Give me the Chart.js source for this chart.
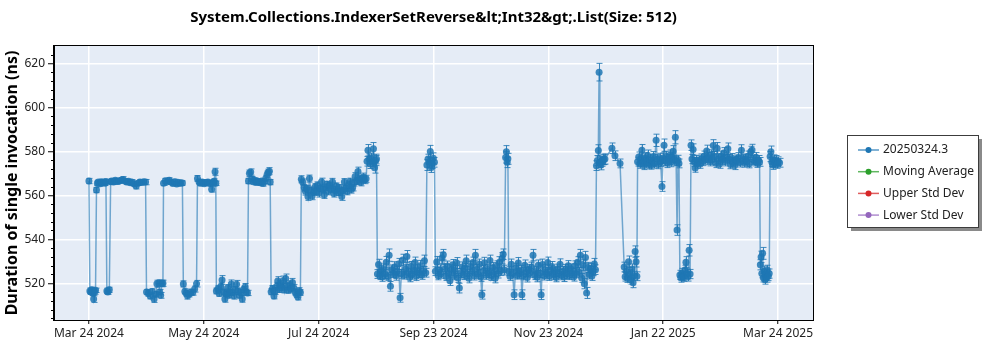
<!DOCTYPE html>
<html>
<head>
<meta charset="utf-8">
<script src="https://cdn.jsdelivr.net/npm/chart.js@4.4.1/dist/chart.umd.min.js"></script>
<style>
  html, body { margin: 0; padding: 0; background: #fff; }
</style>
</head>
<body>
<canvas id="chart" width="1000" height="350"></canvas>
<script>
const chartTitle = "System.Collections.IndexerSetReverse&lt;Int32&gt;.List(Size: 512)";
const yAxisTitle = "Duration of single invocation (ns)";
const seriesNames = ["20250324.3", "Moving Average", "Upper Std Dev", "Lower Std Dev"];
const seriesColors = ["#1f77b4", "#2ca02c", "#d62728", "#9467bd"];

// x is days since Mar 24 2024
const xTickDays = [0, 60.83, 121.67, 182.5, 243.33, 304.17, 365];
const xTickLabels = ["Mar 24 2024", "May 24 2024", "Jul 24 2024", "Sep 23 2024", "Nov 23 2024", "Jan 22 2025", "Mar 24 2025"];
const yTicks = [520, 540, 560, 580, 600, 620];

const days = [
  0,0.5,1,1.5,2,2.5,3,3.5,4,4.5,5,6,6.5,7,8,8.5,9,9.5,10,10.8,11.5,12,13,14,15,16,17,18,19,20,21,22,23,24,25,26,27,28,29,30,
  30.5,31.5,32.5,33.5,34.5,35.5,36,37,37.5,38,38.7,39.2,
  39.5,40.5,41.5,42.5,43.5,44.5,45.5,46.5,47.5,48.5,49.5,
  50,50.8,51.5,52.2,53,54,55,56,57,
  57.5,58.3,59,60,61,62,63,64,65,65.7,66.3,66.8,67.2,
  67.5,68.3,69,69.8,70.5,71.3,72,72.7,73.4,74,74.7,75.4,76,76.8,77.5,78.2,79,79.7,80.5,81.2,82,82.7,83.3,84,
  84.5,85,85.7,86.4,87,87.8,88.5,89.2,90,90.7,91.5,92.2,93,93.7,94.4,95,95.6,96,
  96.5,97.2,98,98.7,99.4,100,100.7,101.4,102,102.8,103.5,104.2,105,105.7,106.4,107,107.8,108.5,109.2,110,110.7,111.4,112,
  112.5,113.2,114,114.7,115.4,116,116.8,117.5,118.2,119,119.7,120.4,121,121.8,122.5,123.2,124,124.7,125.4,126,
  126.8,127.5,128.2,129,129.7,130.4,131,131.8,132.5,133.2,133.9,134.6,135.3,136,136.8,137.5,138.2,139,139.7,140.4,
  141,141.8,142.5,143.2,144,144.7,145.4,146,146.8,
  147.3,147.8,148.4,149,149.6,150.2,150.7,151.3,151.8,152.3,
  152.8,153.4,154,154.7,155.4,156,156.8,157.5,158.2,159,159.7,160.4,161,161.8,162.5,163.2,164,164.8,165.5,166.2,
  167,167.7,168.4,169,169.8,170.5,171.2,172,172.7,173.4,174,174.8,175.5,176.2,177,177.7,178.4,
  179,179.6,180.2,180.8,181.3,181.8,182.4,183,
  183.5,184.2,185,185.7,186.4,187,187.7,188.4,189,189.8,190.5,191.2,192,192.7,193.4,194,194.8,195.5,196.2,197,
  197.7,198.4,199,199.8,200.5,201.2,202,202.7,203.4,204,204.7,205.4,206,206.8,207.5,208.1,208.8,209.5,210.2,211,
  211.7,212.4,213,213.8,214.5,215.2,216,216.7,217.4,218,218.8,219.4,220,
  220.7,221.1,221.5,221.9,
  222.3,223,223.7,224.4,225.2,226,226.7,227.4,228,228.8,229.3,230,230.8,231.5,232.2,233,233.7,234.4,235.2,236,
  236.7,237.4,238,238.8,239.5,240.2,241,241.7,242.4,243,243.8,244.5,245.2,246,246.7,247.4,248,248.8,249.5,250.2,
  251,251.7,252.4,253,253.8,254.5,255.2,256,256.7,257.4,258,258.8,259.5,260.3,261,261.7,262.4,263,263.6,264.3,
  265,265.7,266.4,267,267.7,268.3,
  268.8,269.3,269.8,270.2,270.6,271.1,271.6,272.1,272.7,273.3,
  277,278.6,281.3,
  283.5,284,284.6,285.2,285.8,286.4,287,287.6,288.2,288.8,289.3,289.8,290.2,
  290.6,291.2,291.8,292.4,292.9,293.5,294.1,294.7,295.3,295.9,296.5,297.1,297.7,298.3,298.9,299.5,300.4,301,301.6,302.2,
  302.8,303.5,304,304.6,305.2,305.8,306.4,307,307.6,308.2,308.8,309.4,310,310.6,311,311.5,312,312.5,
  313,313.5,314,314.5,315,315.6,316.2,316.8,317.3,317.9,318.4,
  318.9,319.4,320,320.6,321.1,321.7,322.3,323,323.7,324.4,325,325.8,326.5,327.2,328,328.7,329.4,330.1,330.7,331.3,
  332,332.7,333.4,334,334.8,335.5,336.2,337,337.7,338.4,339,339.8,340.5,341.2,342,342.7,343.4,344,344.8,345.6,
  346.3,347,347.7,348.4,349,349.8,350.5,351.2,351.9,352.6,353.3,354,354.7,355.2,
  355.6,356,356.4,356.8,357.2,357.6,358,358.4,358.9,359.3,359.8,360.3,
  360.8,361.2,361.7,362.2,362.8,363.3,363.9,364.5,365.1,365.8
];

const durations = [
  566.5,516.5,516,517,515.5,512.8,516.2,516.8,562.4,565.5,566,565.3,566.2,565.8,566,565.5,566.3,516.5,516,517,
  566.2,566.5,566,566.8,566.3,566.5,566.9,567.2,566.5,566,566.4,565.7,565.9,565.2,564.2,565.5,566,565.8,566.2,566,
  516,515.5,514.2,516.3,512.8,515,519.8,520.1,516,514.5,519.9,520,
  565.5,566.6,566.2,566.8,566,565.4,566.2,565.2,565.8,565.5,565.6,
  519.7,516.3,515.5,514.3,515,516,515.8,517.4,519.8,
  567.7,566.2,565.5,566.1,565.3,565.8,566,565.4,562.8,565.8,566.4,570.7,565.5,
  516.5,517.4,515.3,518.5,521.5,516,512.9,515.2,517.8,514.6,516,519.7,515.8,514.3,517.2,519.6,516.3,514.5,515.8,512.9,517.2,518.3,516,515.6,
  566.5,570,570.6,567.4,566.2,566.8,565.8,566.4,566,565.7,566.5,565.4,566.3,567.8,569.5,570.5,571,566,
  516.2,517.5,514.2,516.5,518.6,521,517.3,519.6,518.2,521.2,517,522.2,518.5,516.8,519.4,517.5,520.4,518,516,514.8,513.8,516.5,515.8,
  567.3,566,563.5,561.8,563,559.5,567.6,562.3,559.7,561.4,563.8,562,564.6,561,563.2,566.2,562.5,560.3,563.7,565,
  561.8,564.5,562.8,566,560.8,562.5,564.2,561.5,563.4,561.7,559.5,562.3,566,563.2,561.7,564.8,566.3,562.6,563.4,565.7,
  568.5,566.5,570.8,567.2,565.8,567.6,568.3,566.8,567.5,
  575.5,580.5,576.5,574.2,576.8,575.2,581.2,572.5,575.8,576.5,
  524.2,528.5,523.5,525.8,522.8,526.5,524.2,529.6,523,532.8,518.6,526.2,524.5,527.4,523.4,525.5,528.8,513.4,524.3,530.6,
  523.7,526.4,532.2,524.8,522.6,527.6,524,525.8,529.4,523.2,526.2,524.6,528,523.6,525.4,530.2,524.8,
  573.8,576.5,575,579.9,572.6,574.5,576.8,575,
  525.5,529.7,523.4,526.2,524.3,531.5,533,526.5,523.2,527.8,524.5,521.2,526.3,528.4,523.5,525.8,529.2,522.4,517.8,524.7,
  527.4,523.6,526.8,530.2,524.2,522.3,527.6,525.4,529.4,523.4,532.8,526.3,524.1,528.6,522.8,514.8,525.8,529.3,523.7,526.4,
  524.6,530.4,523.2,527.2,525,522.3,527.8,524.4,529.6,525.7,531.4,533.2,526,
  577.2,579.8,575,576.6,
  525.5,523.2,528.6,524.4,514.8,526.8,523.8,529.2,524.2,526,514.8,523.5,528.2,525.2,522.6,526.4,524.8,527.3,532.8,523.6,
  525.4,522.7,528.2,524.6,514.8,528.5,523.4,526.2,524.3,529.5,523.2,525.8,527.6,523.8,525.2,522.6,526.5,524.4,528.7,523.5,
  525.5,522.8,526.4,524.2,528,523.6,526.6,524.7,522.9,527.8,524.5,529.6,525,532.7,522.4,528.3,519.8,531.7,515.6,527.2,
  524,526.8,523.3,525.6,528.8,526.2,
  573.5,575.8,580.4,616,575,573.8,575.5,576.3,576.2,576.5,
  581.4,578,574.5,
  527.4,523,525.5,522.3,529.8,524,521.6,526.5,520.2,523.5,534.4,529.8,523.2,
  575.3,577.4,574.2,576.6,580.5,575.2,573.6,577,575.5,578.2,574,576.2,573.8,575.8,577.6,574.4,585,576.4,574,576.8,
  575.2,564,577,582.8,575.6,577.6,574.6,576.4,578.2,575,577.4,580,576,586.4,575.6,544.2,576,574.5,
  523.8,522.5,524.6,523.2,522.8,526,529.6,524.4,523,535,524.2,
  582.8,576.5,580.8,575.2,572.4,576,574.4,575.8,574.2,576.6,575.5,577.8,576.2,580.2,577.2,575.4,578.4,576.2,582.6,577.6,
  574.6,581.4,576.6,574.2,577.8,576.2,579.2,575.4,577.2,581.2,576.4,574,576.8,575.3,573.6,576.2,575.7,577.2,574.9,580.5,
  576.4,574.8,576.6,575.2,577.8,574.4,579.8,580.6,576.2,575.4,577.3,574.6,576,575.2,
  528.4,532,524.5,533.6,522.5,525.6,521.6,524.2,522.4,526,523.2,524.4,
  577.6,579.8,575.2,573.8,576.2,574.6,576,574.2,575.4,574.8
];

const errors = [
  1.2,1.4,1,1.2,1,1.5,1.2,1,1.2,1,1,1.1,1,1,1.2,1,1,1.3,1,1.2,1,1,1.1,1,1.2,1,1,1.3,1,1.1,1,1,1.2,1,1.3,1,1.1,1,1,1.2,
  1.2,1.4,1.3,1.2,1.5,1.2,1.6,1.4,1.2,1.3,1.5,1.4,
  1,1.1,1,1.2,1,1,1.1,1,1.2,1,1,
  1.4,1.2,1.3,1.5,1.2,1.3,1.2,1.4,1.5,
  1.3,1,1.1,1,1,1.2,1,1.1,1.3,1,1.1,1.6,1,
  1.3,1.5,1.2,1.6,2,1.3,1.5,1.2,1.6,1.3,1.4,1.8,1.2,1.5,1.3,1.7,1.4,1.2,1.3,1.5,1.4,1.6,1.3,1.2,
  1.2,1.5,1.4,1.2,1,1.1,1,1.2,1,1.1,1,1.2,1,1.3,1.5,1.4,1.6,1.2,
  1.4,1.5,1.3,1.6,1.8,2,1.5,1.7,1.6,2.1,1.4,2,1.5,1.3,1.7,1.5,1.8,1.5,1.4,1.3,1.4,1.5,1.3,
  1.6,1.4,1.5,1.7,1.5,1.8,1.6,1.5,1.7,1.4,1.5,1.6,1.5,1.8,1.4,1.6,1.5,1.7,1.5,1.4,
  1.6,1.5,1.4,1.7,1.6,1.5,1.4,1.6,1.5,1.7,1.8,1.5,1.6,1.4,1.5,1.7,1.5,1.6,1.4,1.5,
  1.8,1.6,2,1.7,1.5,1.6,1.8,1.5,1.6,
  2.2,2.6,2.3,2,2.4,2.2,2.8,2.4,2.3,2.2,
  2,2.4,1.8,2.2,1.9,2.3,2,2.6,1.8,2.8,2.2,2.1,1.9,2.4,2,2.2,2.5,2,2,2.6,
  1.8,2.2,2.7,2,1.9,2.3,2.1,2,2.5,1.9,2.2,2,2.4,1.8,2.1,2.6,2,
  2.5,2.2,2.4,2.8,2.2,2.3,2.5,2.2,
  2,2.5,1.8,2.2,2,2.6,2.4,2.1,1.9,2.3,2,2.2,2.1,2.4,1.9,2.2,2.5,2,2.2,2,
  2.3,1.9,2.2,2.6,2,2.1,2.4,2,2.5,1.9,2.6,2.2,2,2.4,1.9,2,2.2,2.5,1.9,2.1,
  2,2.4,1.9,2.2,2,2.1,2.4,2,2.5,2.1,2.6,2.4,2.2,
  2.6,2.8,2.4,2.5,
  2,1.9,2.4,2,2.2,2.3,1.9,2.5,2,2.2,2.2,1.9,2.4,2.1,2,2.2,2,2.3,2.6,1.9,
  2.1,2,2.4,2,2.2,2.5,1.9,2.2,2,2.4,1.9,2.1,2.3,2,2.1,1.9,2.2,2,2.4,1.9,
  2.1,2,2.2,2,2.3,1.9,2.2,2.1,1.9,2.4,2,2.5,2.1,2.7,2,2.4,2.3,2.8,2.5,2.3,
  2,2.2,2,2.1,2.5,2.2,
  2.2,2.3,2.6,4,2.4,2.2,2.3,2.4,2.2,2.3,
  2.4,2.2,2,
  2.2,2,2.3,1.9,2.6,2.1,2,2.3,2.2,2,2.6,2.4,2,
  2,2.3,1.9,2.2,2.6,2,1.9,2.3,2,2.4,1.9,2.2,1.9,2.1,2.3,2,2.8,2.2,1.9,2.3,
  2,2.2,2.3,2.8,2.1,2.4,2,2.2,2.4,2,2.3,2.6,2.2,3,2.1,2.4,2.2,2,
  2.1,2,2.2,2,1.9,2.2,2.5,2.1,2,2.6,2.1,
  2.4,2.1,2.6,2,1.9,2.2,2,2.1,1.9,2.2,2,2.3,2.1,2.6,2.2,2,2.3,2.1,2.7,2.3,
  2,2.6,2.2,1.9,2.3,2.1,2.5,2,2.2,2.6,2.1,1.9,2.2,2,1.9,2.1,2,2.2,2,2.5,
  2.1,2,2.2,2,2.3,1.9,2.5,2.6,2.1,2,2.2,1.9,2.1,2,
  2.3,2.6,2,2.7,1.9,2.2,2,2.1,1.9,2.2,2,2.1,
  2.3,2.6,2.1,2,2.2,2,2.1,1.9,2.1,2
];

if (days.length !== durations.length || days.length !== errors.length) {
  console.error("length mismatch", days.length, durations.length, errors.length);
}

const FONT = "'Noto Sans', 'Open Sans', sans-serif";

const plotBackground = {
  id: "plotBackground",
  beforeDraw(chart) {
    const a = chart.chartArea, ctx = chart.ctx;
    ctx.save();
    ctx.fillStyle = "#e5ecf6";
    ctx.fillRect(a.left, a.top, a.right - a.left, a.bottom - a.top);
    ctx.restore();
  }
};

const errorBars = {
  id: "errorBars",
  beforeDatasetsDraw(chart) {
    const ctx = chart.ctx, a = chart.chartArea;
    const xs = chart.scales.x, ys = chart.scales.y;
    ctx.save();
    ctx.beginPath();
    ctx.rect(a.left, a.top, a.right - a.left, a.bottom - a.top);
    ctx.clip();
    ctx.strokeStyle = "rgba(31,119,180,0.85)";
    ctx.lineWidth = 1;
    ctx.beginPath();
    for (let i = 0; i < days.length; i++) {
      if (errors[i] == null) continue;
      const x = Math.round(xs.getPixelForValue(days[i])) + 0.5;
      const y1 = ys.getPixelForValue(durations[i] + errors[i]);
      const y2 = ys.getPixelForValue(durations[i] - errors[i]);
      ctx.moveTo(x, y1); ctx.lineTo(x, y2);
      ctx.moveTo(x - 3, y1); ctx.lineTo(x + 3, y1);
      ctx.moveTo(x - 3, y2); ctx.lineTo(x + 3, y2);
    }
    ctx.stroke();
    ctx.restore();
  }
};

const frameAndLegend = {
  id: "frameAndLegend",
  afterDraw(chart) {
    const ctx = chart.ctx, a = chart.chartArea, ys = chart.scales.y;
    ctx.save();
    // frame
    ctx.strokeStyle = "#000";
    ctx.lineWidth = 1;
    ctx.strokeRect(Math.round(a.left) - 0.5, Math.round(a.top) - 0.5,
      Math.round(a.right - a.left) + 1, Math.round(a.bottom - a.top) + 1);
    // minor y ticks
    ctx.beginPath();
    for (let v = 504; v <= 627; v += 4) {
      if (v % 20 === 0) continue;
      const y = Math.round(ys.getPixelForValue(v)) + 0.5;
      ctx.moveTo(a.left - 3, y); ctx.lineTo(a.left, y);
    }
    ctx.stroke();

    // legend box with shadow
    const lx = 847.5, ly = 135.5, lw = 131, lh = 92;
    ctx.fillStyle = "#8a8a8a";
    ctx.fillRect(lx + 3.5, ly + 3.5, lw, lh);
    ctx.fillStyle = "#fff";
    ctx.fillRect(lx, ly, lw, lh);
    ctx.strokeStyle = "#3c3c3c";
    ctx.strokeRect(lx, ly, lw, lh);
    ctx.font = "12px " + FONT;
    ctx.textBaseline = "middle";
    chart.data.datasets.forEach((ds, i) => {
      const y = 150 + i * 21.7;
      ctx.strokeStyle = ds.legendColor;
      ctx.globalAlpha = 0.75;
      ctx.lineWidth = 1.5;
      ctx.beginPath();
      ctx.moveTo(858, y); ctx.lineTo(879, y);
      ctx.stroke();
      ctx.globalAlpha = 1;
      ctx.fillStyle = ds.legendColor;
      ctx.beginPath();
      ctx.arc(868.5, y, 3, 0, Math.PI * 2);
      ctx.fill();
      ctx.fillStyle = "#222";
      ctx.fillText(ds.label, 883, y);
    });
    ctx.restore();
  }
};

const datasets = seriesNames.map((name, i) => ({
  label: name,
  legendColor: seriesColors[i],
  data: i === 0 ? days.map((d, k) => ({ x: d, y: durations[k] })) : [],
  borderColor: i === 0 ? "rgba(31,119,180,0.6)" : seriesColors[i],
  borderWidth: 1.5,
  pointRadius: 3.5,
  pointBorderWidth: 0,
  pointBackgroundColor: i === 0 ? "rgba(31,119,180,0.85)" : seriesColors[i],
  tension: 0,
  fill: false
}));

new Chart(document.getElementById("chart"), {
  type: "line",
  data: { datasets: datasets },
  options: {
    responsive: false,
    animation: false,
    devicePixelRatio: 1,
    layout: { padding: { right: 187, top: 0, bottom: 0, left: 0 } },
    plugins: {
      legend: { display: false },
      tooltip: { enabled: false },
      title: {
        display: true,
        text: chartTitle,
        fullSize: false,
        color: "#000",
        font: { family: FONT, size: 15, weight: "bold" },
        padding: { top: 9, bottom: 19 }
      }
    },
    scales: {
      x: {
        type: "linear",
        min: -18.5,
        max: 383.5,
        afterFit: s => { s.height = 30; },
        afterBuildTicks: s => { s.ticks = xTickDays.map(v => ({ value: v })); },
        ticks: {
          callback: (v, i) => xTickLabels[i],
          color: "#222",
          font: { family: FONT, size: 12 },
          maxRotation: 0,
          autoSkip: false,
          padding: 2
        },
        grid: { color: "#fff", lineWidth: 1.5, tickColor: "#000", tickLength: 4, tickWidth: 1 },
        border: { color: "#000", width: 1 }
      },
      y: {
        type: "linear",
        min: 503.3,
        max: 627.9,
        afterFit: s => { s.width = 54; },
        afterBuildTicks: s => { s.ticks = yTicks.map(v => ({ value: v })); },
        ticks: {
          color: "#222",
          font: { family: FONT, size: 12 },
          padding: 3
        },
        grid: { color: "#fff", lineWidth: 1.5, tickColor: "#000", tickLength: 6, tickWidth: 1 },
        border: { color: "#000", width: 1 },
        title: {
          display: true,
          text: yAxisTitle,
          color: "#000",
          font: { family: FONT, size: 16, weight: "bold" },
          padding: { top: 3, bottom: 0 }
        }
      }
    }
  },
  plugins: [plotBackground, errorBars, frameAndLegend]
});
</script>
</body>
</html>
